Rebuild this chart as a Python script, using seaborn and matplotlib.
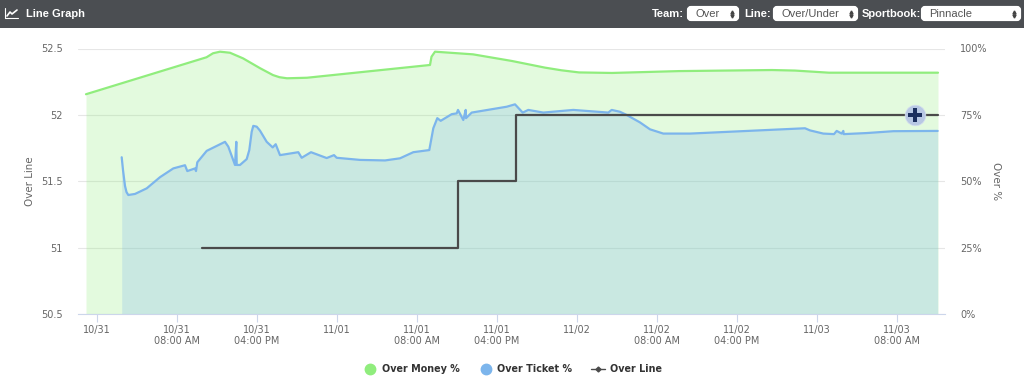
import pandas as pd
import matplotlib
matplotlib.use('Agg')
import matplotlib.pyplot as plt
from matplotlib.lines import Line2D
from matplotlib.patches import FancyBboxPatch, Rectangle
import seaborn as sns

# === DATA ===
# Hours since 10/31 midnight
money_hours = [-1.05, 11.0, 11.65, 12.35, 13.35, 14.65, 16.35, 17.65, 18.3, 19.05, 21.05, 33.35, 33.5,
               33.85, 37.65, 41.55, 44.85, 46.5, 48.25, 51.55, 58.25, 67.55, 69.85, 73.25, 84.15]
money_pct = [82.8, 96.7, 98.2, 98.8, 98.4, 96.3, 92.6, 90.0, 89.2, 88.8, 89.0, 93.8, 96.9,
             98.8, 97.8, 95.3, 92.8, 91.8, 91.0, 90.8, 91.5, 91.9, 91.7, 90.9, 90.9]

ticket_hours = [2.52, 2.65, 2.85, 3.0, 3.18, 3.85, 5.02, 6.35, 7.68, 8.85, 9.08, 9.85, 9.95, 10.08, 11.02,
                12.85, 13.18, 13.85, 13.98, 14.02, 14.35, 15.02, 15.28, 15.52, 15.68, 16.02, 16.35, 17.02,
                17.62, 17.92, 18.35, 20.18, 20.52, 21.45, 23.02, 23.75, 24.02, 26.35, 28.85, 30.35, 31.68,
                33.28, 33.68, 34.08, 34.42, 35.52, 36.02, 36.15, 36.68, 36.92, 36.95, 37.52,
                41.02, 41.85, 42.62, 43.18, 44.68, 47.68, 51.18, 51.52, 52.35, 53.02, 54.35,
                55.35, 56.68, 59.35, 70.85, 71.35, 72.68, 73.75, 74.02, 74.52, 74.68, 74.72,
                77.02, 79.68, 84.12]
ticket_pct = [59.1, 54.3, 48.3, 46.0, 44.9, 45.3, 47.4, 51.6, 54.9, 56.1, 53.9, 54.9, 53.9, 57.2, 61.5,
              64.9, 63.1, 56.2, 64.9, 56.2, 56.2, 58.4, 61.8, 68.7, 70.9, 70.6, 69.1, 64.9,
              62.8, 64.0, 59.9, 61.0, 58.9, 61.0, 58.8, 59.9, 58.9, 58.1, 57.9, 58.7, 61.0,
              61.8, 70.0, 73.8, 72.8, 75.3, 75.6, 76.9, 73.1, 76.9, 73.8, 75.9,
              78.1, 79.0, 75.9, 76.9, 75.9, 76.9, 75.9, 76.9, 76.2, 75.0, 72.2,
              69.6, 68.0, 68.0, 70.0, 69.2, 68.0, 67.8, 69.0, 68.0, 69.0, 67.8,
              68.2, 68.9, 69.0]

line_hours = [10.55, 36.15, 41.95, 84.15]
line_values = [51, 51.5, 52, 52]
hover_hour = [81.85]
hover_value = [52]

tick_hours = [0, 8, 16, 24, 32, 40, 48, 56, 64, 72, 80]
tick_labels = ['10/31', '10/31\n08:00 AM', '10/31\n04:00 PM', '11/01', '11/01\n08:00 AM', '11/01\n04:00 PM',
               '11/02', '11/02\n08:00 AM', '11/02\n04:00 PM', '11/03', '11/03\n08:00 AM']
left_ticks = [50.5, 51, 51.5, 52, 52.5]
left_labels = ['50.5', '51', '51.5', '52', '52.5']
right_ticks = [0, 25, 50, 75, 100]
right_labels = ['0%', '25%', '50%', '75%', '100%']

df_money = pd.DataFrame({'hour': money_hours, 'pct': money_pct})
df_ticket = pd.DataFrame({'hour': ticket_hours, 'pct': ticket_pct})
df_line = pd.DataFrame({'hour': line_hours, 'value': line_values})
df_hover = pd.DataFrame({'hour': hover_hour, 'value': hover_value})

GREEN = '#90ed7d'
BLUE = '#7cb5ec'
DARK = '#4a4a4a'
TEXT = '#666666'

sns.set_theme(style='white')
plt.rcParams['font.family'] = ['DejaVu Sans']

fig = plt.figure(figsize=(10.24, 3.89), dpi=100, facecolor='white')

# Pixel-coordinate layer for the header bar and legend
top = fig.add_axes([0, 0, 1, 1], zorder=5)
top.set_xlim(0, 1024)
top.set_ylim(389, 0)
top.axis('off')
top.patch.set_alpha(0)

top.add_patch(Rectangle((0, 0), 1024, 28, color='#4b4e52', lw=0))
top.plot([5, 5, 18], [8, 18, 18], color='white', lw=0.8)
top.plot([7, 10, 12, 17], [16, 12, 14, 10], color='white', lw=1.2)
top.text(26, 14, 'Line Graph', color='white', fontsize=8, va='center', family='Liberation Sans', weight='bold')

# Team / line / sportsbook selects
for label, lx, bx, bw, value in [('Team:', 652, 687, 52, 'Over'),
                                 ('Line:', 744, 773, 85, 'Over/Under'),
                                 ('Sportbook:', 862, 921, 100, 'Pinnacle')]:
    top.text(lx, 14, label, color='white', fontsize=8, va='center', family='Liberation Sans', weight='bold')
    top.add_patch(FancyBboxPatch((bx + 2, 8), bw - 4, 11, boxstyle='round,pad=0,rounding_size=2',
                                 fc='white', ec='white', lw=3))
    top.text(bx + 8, 14, value, color='#555555', fontsize=8, va='center', family='Liberation Sans')
    top.plot([bx + bw - 7], [11.5], marker='^', ms=2.2, color='#444444')
    top.plot([bx + bw - 7], [16], marker='v', ms=2.2, color='#444444')

# === CHART ===
ax = fig.add_axes([78 / 1024, 1 - 314.4 / 389, 867 / 1024, 265.9 / 389], zorder=1)
ax.set_xlim(-1.85, 84.85)
ax.set_ylim(0, 100)

sns.lineplot(data=df_money, x='hour', y='pct', color=GREEN, lw=1.6, errorbar=None, ax=ax)
sns.lineplot(data=df_ticket, x='hour', y='pct', color=BLUE, lw=1.6, errorbar=None, ax=ax)
ax.fill_between(df_money['hour'], df_money['pct'], color=GREEN, alpha=0.25, lw=0)
ax.fill_between(df_ticket['hour'], df_ticket['pct'], color=BLUE, alpha=0.25, lw=0)

# Over Line sits on the left axis, percent stays on the right
ax_line = ax.twinx()
ax_line.set_ylim(50.5, 52.5)
sns.lineplot(data=df_line, x='hour', y='value', color=DARK, lw=1.6, drawstyle='steps-post', errorbar=None, ax=ax_line)
sns.scatterplot(data=df_hover, x='hour', y='value', color='#b8c8e4', s=220, edgecolor='#d5dfef', linewidth=0.5, ax=ax_line, clip_on=False, zorder=5)
sns.scatterplot(data=df_hover, x='hour', y='value', color='#1b2f5e', s=105, marker='P', edgecolor='none', ax=ax_line, clip_on=False, zorder=6)

ax.yaxis.tick_right()
ax.set_yticks(right_ticks, right_labels)
ax.set_xticks(tick_hours, tick_labels)
ax.grid(True, axis='y', color='#e6e6e6', lw=0.8)
ax.grid(False, axis='x')
ax.set_axisbelow(True)
ax.tick_params(axis='y', length=0, pad=11, labelsize=7, labelcolor=TEXT)
ax.tick_params(axis='x', length=6, width=0.8, color='#ccd6eb', pad=1.5, labelsize=7, labelcolor=TEXT, bottom=True)
for side in ['top', 'left', 'right']:
    ax.spines[side].set_visible(False)
ax.spines['bottom'].set_color('#ccd6eb')
ax.spines['bottom'].set_linewidth(0.8)
ax.set_xlabel('')
ax.set_ylabel('Over %', rotation=270, color=TEXT, fontsize=7.4, va='center')
ax.yaxis.set_label_position('right')
ax.yaxis.set_label_coords(1.065, 0.5)

ax_line.yaxis.tick_left()
ax_line.set_yticks(left_ticks, left_labels)
ax_line.tick_params(axis='y', length=0, pad=11, labelsize=7, labelcolor=TEXT)
ax_line.grid(False)
for side in ['top', 'left', 'right', 'bottom']:
    ax_line.spines[side].set_visible(False)
ax_line.set_xlabel('')
ax_line.set_ylabel('Over Line', color=TEXT, fontsize=7.4, va='center')
ax_line.yaxis.set_label_position('left')
ax_line.yaxis.set_label_coords(-0.0495, 0.5)

# === LEGEND ===
handles = [
    Line2D([], [], ls='none', marker='o', ms=7.5, color=GREEN),
    Line2D([], [], ls='none', marker='o', ms=7.5, color=BLUE),
    Line2D([], [], color=DARK, lw=1, marker='D', ms=2.5),
]
top.legend(handles, ['Over Money %', 'Over Ticket %', 'Over Line'], ncol=3, frameon=False,
           loc='center', bbox_to_anchor=(0.5005, 1 - 369 / 389), labelcolor='#333333',
           prop={'weight': 'bold', 'size': 6.9}, handlelength=1.5, handletextpad=0.48, columnspacing=1.93)

fig.savefig('out.png', dpi=100)
